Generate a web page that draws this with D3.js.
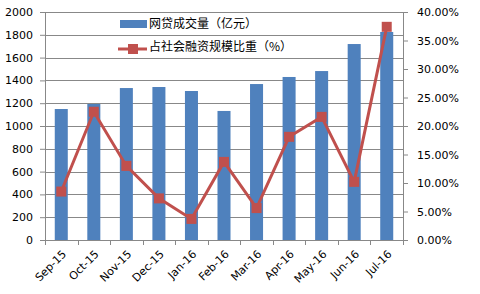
<!DOCTYPE html>
<html>
<head>
<meta charset="utf-8">
<script src="https://cdn.jsdelivr.net/npm/d3@7"></script>
<style>
  html, body { margin: 0; padding: 0; background: #fff; }
  svg { display: block; }
</style>
</head>
<body>
<svg id="chart" width="480" height="294"></svg>
<script>
// --- data ---
const months = ["Sep-15","Oct-15","Nov-15","Dec-15","Jan-16","Feb-16","Mar-16","Apr-16","May-16","Jun-16","Jul-16"];
const volume = [1149, 1193, 1333, 1342, 1307, 1132, 1368, 1430, 1482, 1719, 1825];   // 网贷成交量（亿元）
const share  = [8.5, 22.5, 13.0, 7.3, 3.7, 13.7, 5.6, 18.1, 21.6, 10.2, 37.4];      // 占社会融资规模比重（%）
const leftTicks  = [0, 200, 400, 600, 800, 1000, 1200, 1400, 1600, 1800, 2000];
const rightTicks = [0, 5, 10, 15, 20, 25, 30, 35, 40];
const seriesNames = ["网贷成交量（亿元）", "占社会融资规模比重（%）"];

const W = 480, H = 294;
const margin = { top: 12, right: 77, bottom: 54, left: 45 };
const iw = W - margin.left - margin.right;
const ih = H - margin.top - margin.bottom;

const BAR = "#4F81BD", LINE = "#C0504D", GRID = "#888888";
const FONT = "'DejaVu Sans', Verdana, sans-serif";
const CJK = "'Noto Sans CJK SC', 'Noto Sans', sans-serif";

const svg = d3.select("#chart");
const g = svg.append("g").attr("transform", `translate(${margin.left},${margin.top})`);

const x = d3.scaleBand().domain(months).range([0, iw]).paddingInner(0.6).paddingOuter(0.3);
const xb = d3.scaleBand().domain(months).range([0, iw]); // for tick positions
const y = d3.scaleLinear().domain([0, 2000]).range([ih, 0]);
const y2 = d3.scaleLinear().domain([0, 40]).range([ih, 0]);

// gridlines
g.append("g").selectAll("line").data(leftTicks).enter().append("line")
  .attr("x1", 0).attr("x2", iw)
  .attr("y1", d => Math.round(y(d)) + 0.5).attr("y2", d => Math.round(y(d)) + 0.5)
  .attr("stroke", GRID).attr("stroke-width", 1);

// bars
g.append("g").selectAll("rect").data(volume).enter().append("rect")
  .attr("x", (d, i) => x(months[i]))
  .attr("y", d => y(d))
  .attr("width", x.bandwidth())
  .attr("height", d => ih - y(d))
  .attr("fill", BAR);

// left axis
const ya = g.append("g").call(d3.axisLeft(y).tickValues(leftTicks).tickSize(5).tickPadding(7).tickFormat(d3.format("d")));
// right axis
const ya2 = g.append("g").attr("transform", `translate(${iw},0)`)
  .call(d3.axisRight(y2).tickValues(rightTicks).tickSize(5).tickPadding(9).tickFormat(d => d.toFixed(2) + "%"));
// bottom axis
const xa = g.append("g").attr("transform", `translate(0,${ih})`)
  .call(d3.axisBottom(xb).tickSize(0).tickPadding(0));

[ya, ya2, xa].forEach(a => {
  a.select(".domain").attr("stroke", GRID);
  a.selectAll(".tick line").attr("stroke", GRID);
  a.selectAll("text").attr("fill", "#000").style("font-family", FONT).style("font-size", "11px");
});

// category boundary ticks
xa.append("g").selectAll("line").data(d3.range(months.length + 1)).enter().append("line")
  .attr("x1", i => Math.round(i * xb.step()) + 0.5).attr("x2", i => Math.round(i * xb.step()) + 0.5)
  .attr("y1", 0).attr("y2", 5).attr("stroke", GRID);

xa.selectAll(".tick text")
  .attr("text-anchor", "end")
  .attr("dy", "0.35em")
  .attr("transform", "translate(3,12) rotate(-45)");

// line
const cx = i => xb(months[i]) + xb.bandwidth() / 2;
g.append("path")
  .datum(share)
  .attr("fill", "none")
  .attr("stroke", LINE)
  .attr("stroke-width", 3)
  .attr("d", d3.line().x((d, i) => cx(i)).y(d => y2(d)));

g.append("g").selectAll("rect").data(share).enter().append("rect")
  .attr("x", (d, i) => cx(i) - 5)
  .attr("y", d => y2(d) - 5)
  .attr("width", 10).attr("height", 10)
  .attr("fill", LINE);

// legend
const lg = svg.append("g");
lg.append("rect").attr("x", 120).attr("y", 20).attr("width", 27).attr("height", 8).attr("fill", BAR);
lg.append("line").attr("x1", 118).attr("x2", 147).attr("y1", 49).attr("y2", 49)
  .attr("stroke", LINE).attr("stroke-width", 3);
lg.append("rect").attr("x", 128).attr("y", 44).attr("width", 10).attr("height", 10).attr("fill", LINE);
lg.selectAll("text.lbl").data(seriesNames).enter().append("text")
  .attr("class", "lbl")
  .attr("x", 149)
  .attr("y", (d, i) => 24 + i * 23)
  .attr("dy", "0.35em")
  .style("font-family", CJK)
  .style("font-size", "12px")
  .attr("fill", "#000")
  .text(d => d);
</script>
</body>
</html>
